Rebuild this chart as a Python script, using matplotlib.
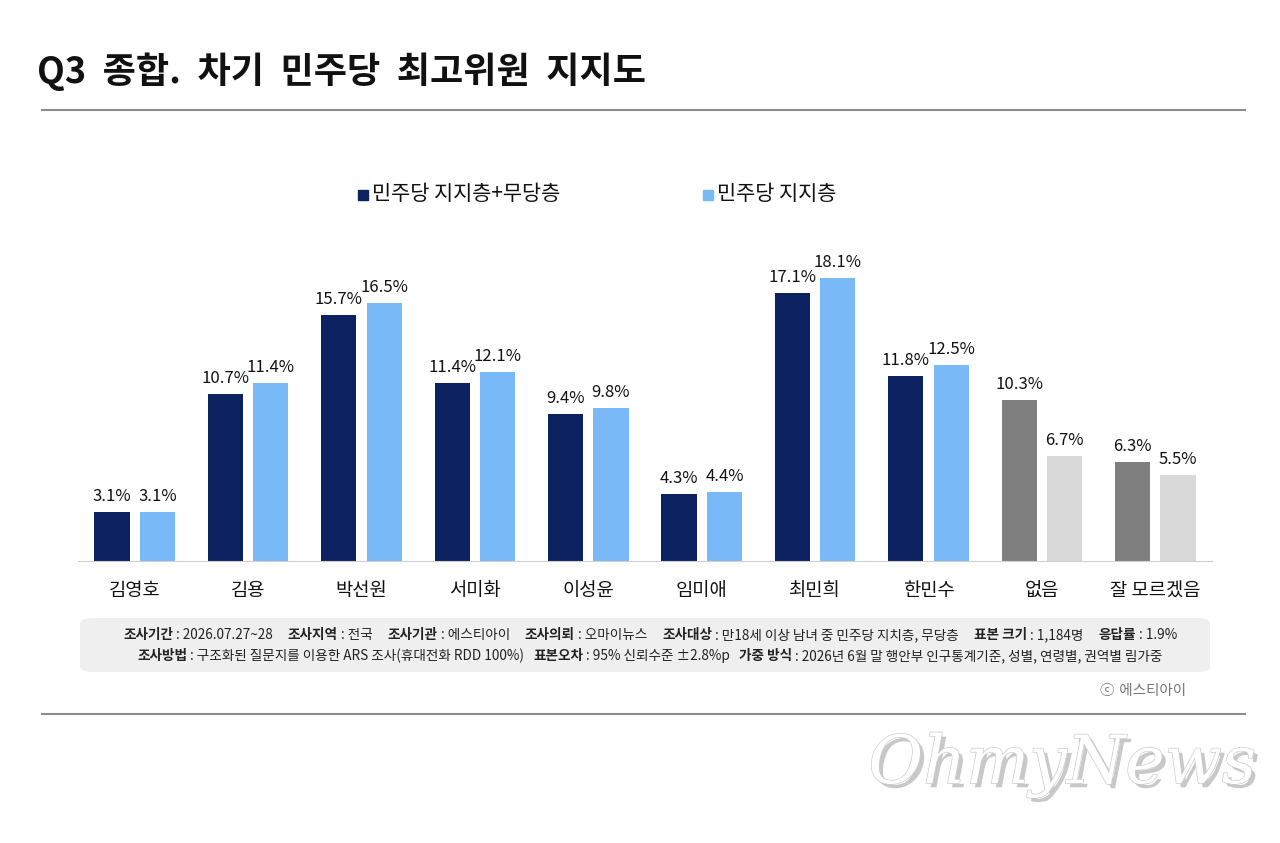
import numpy as np
import matplotlib
matplotlib.use("Agg")
import matplotlib.pyplot as plt
from matplotlib.patches import FancyBboxPatch, Rectangle
import matplotlib.patheffects as pe

plt.rcParams['font.family'] = ['Noto Sans CJK KR', 'DejaVu Sans']

# data
categories = ['김영호', '김용', '박선원', '서미화', '이성윤', '임미애', '최민희', '한민수', '없음', '잘 모르겠음']
dem_plus_indep = [3.1, 10.7, 15.7, 11.4, 9.4, 4.3, 17.1, 11.8, 10.3, 6.3]
dem_only = [3.1, 11.4, 16.5, 12.1, 9.8, 4.4, 18.1, 12.5, 6.7, 5.5]
series_names = ['민주당 지지층+무당층', '민주당 지지층']

title = 'Q3  종합.  차기  민주당  최고위원  지지도'
footer1 = [('조사기간', '2026.07.27~28'), ('조사지역', '전국'), ('조사기관', '에스티아이'),
           ('조사의뢰', '오마이뉴스'), ('조사대상', '만18세 이상 남녀 중 민주당 지치층, 무당층'),
           ('표본 크기', '1,184명'), ('응답률', '1.9%')]
footer2 = [('조사방법', '구조화된 질문지를 이용한 ARS 조사(휴대전화 RDD 100%)'),
           ('표본오차', '95% 신뢰수준 ±2.8%p'),
           ('가중 방식', '2026년 6월 말 행안부 인구통계기준, 성별, 연령별, 권역별 림가중')]

W, H = 1280, 843
fig = plt.figure(figsize=(12.8, 8.43), dpi=100)
fig.patch.set_facecolor('white')

def fx(px):
    return px / W

def fy(py):
    return 1 - py / H

# title and rules
fig.text(fx(37), fy(72), title, fontsize=26, fontweight='bold', color='#111111',
         va='center', ha='left')
fig.add_artist(plt.Line2D([fx(42), fx(1245)], [fy(110), fy(110)], color='#8c8c8c', lw=1.5))
fig.add_artist(plt.Line2D([fx(42), fx(1245)], [fy(714), fy(714)], color='#8c8c8c', lw=1.5))

# chart
ax = fig.add_axes([fx(78), fy(561), fx(1212 - 78), (561 - 248) / H])
x = np.arange(len(categories))
dark = ['#0c2260'] * 8 + ['#7f7f7f'] * 2
light = ['#79b9f7'] * 8 + ['#d9d9d9'] * 2
w = 0.31
off = 0.2
b1 = ax.bar(x - off, dem_plus_indep, w, color=dark)
b2 = ax.bar(x + off, dem_only, w, color=light)
for bars, vals in ((b1, dem_plus_indep), (b2, dem_only)):
    for b, v in zip(bars, vals):
        ax.text(b.get_x() + b.get_width() / 2, v + 0.45, f'{v:.1f}%', ha='center', va='bottom',
                fontsize=12, fontweight='medium', color='#111111')
ax.set_xlim(-0.5, len(categories) - 0.5)
ax.set_ylim(0, 20)
ax.set_yticks([])
ax.set_xticks(x)
ax.set_xticklabels(categories, fontsize=13.5, color='#111111')
ax.tick_params(axis='x', length=0, pad=14)
for s in ['top', 'right', 'left']:
    ax.spines[s].set_visible(False)
ax.spines['bottom'].set_color('#d0d0d0')
ax.set_facecolor('none')

# legend
for px, col, name in ((358, '#0c2260', series_names[0]), (703, '#79b9f7', series_names[1])):
    fig.add_artist(Rectangle((fx(px), fy(200)), fx(10), 10 / H, color=col))
    fig.text(fx(px + 14), fy(194), name, fontsize=15, va='center', ha='left', color='#111111')

# footer box
box = FancyBboxPatch((fx(80), fy(672)), fx(1130), 54 / H,
                     boxstyle='round,pad=0,rounding_size=0.01', transform=fig.transFigure,
                     facecolor='#efefef', edgecolor='none', mutation_aspect=H / W)
fig.add_artist(box)

def footer_line(items, y, sep='     '):
    r = fig.canvas.get_renderer()
    parts = []
    for i, (k, v) in enumerate(items):
        parts.append((k, 'bold'))
        parts.append((' : ' + v + (sep if i < len(items) - 1 else ''), 'normal'))
    texts = []
    for s, wt in parts:
        t = fig.text(0, fy(y), s, fontsize=9.8, fontweight=wt, va='center', ha='left', color='#222222')
        texts.append(t)
    widths = [t.get_window_extent(r).width for t in texts]
    total = sum(widths)
    cur = (W * 0.5 + 10) - total / 2
    for t, wd in zip(texts, widths):
        t.set_x(fx(cur))
        cur += wd

footer_line(footer1, 635)
footer_line(footer2, 656, sep='   ')

fig.text(fx(1186), fy(690), 'ⓒ 에스티아이', fontsize=10.5, color='#777777', ha='right', va='center',
         family=['DejaVu Sans', 'Noto Sans CJK KR'])

# watermark
fig.text(fx(1062), fy(765), 'OhmyNews', fontsize=48, style='italic', family='DejaVu Serif',
         color='white', ha='center', va='center',
         path_effects=[pe.withSimplePatchShadow(offset=(3, -3), shadow_rgbFace='#777777', alpha=0.4),
                       pe.Stroke(linewidth=1, foreground='#cccccc'), pe.Normal()])

fig.savefig('out.png', dpi=100)
